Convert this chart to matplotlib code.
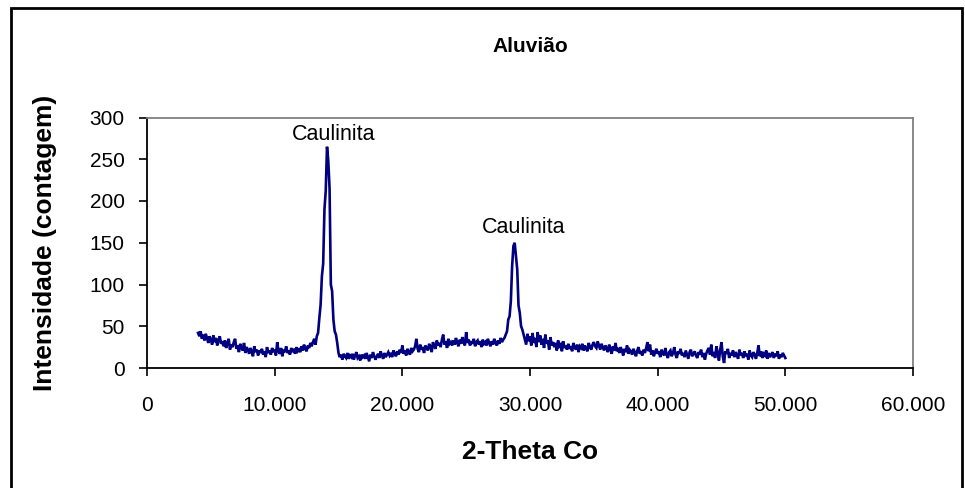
import numpy as np
import matplotlib
matplotlib.use("Agg")
import matplotlib.pyplot as plt
from matplotlib import font_manager
from matplotlib.patches import Rectangle
from matplotlib.ticker import FuncFormatter

# 2-theta scan (degrees, Co radiation), 0.1 degree step from 4 to 50
two_theta_start = 4.0
two_theta_step = 0.1
counts = [
    42, 38, 44, 35, 40, 33, 41, 36, 30, 38,
    34, 28, 39, 31, 36, 27, 33, 38, 29, 32,
    26, 33, 24, 30, 35, 22, 28, 25, 31, 35,
    23, 27, 19, 29, 24, 21, 30, 18, 25, 22,
    17, 24, 20, 14, 26, 19, 22, 15, 21, 18,
    23, 16, 20, 13, 25, 18, 21, 16, 24, 19,
    22, 15, 31, 20, 17, 24, 14, 22, 19, 26,
    18, 21, 16, 24, 19, 23, 17, 25, 20, 22,
    19, 26, 21, 28, 23, 20, 27, 24, 30, 26,
    31, 35, 28, 38, 42, 60, 76, 110, 125, 190,
    212, 265, 248, 215, 100, 92, 58, 44, 40, 30,
    18, 13, 16, 10, 17, 14, 12, 18, 11, 15,
    13, 17, 10, 15, 19, 12, 14, 9, 16, 13,
    15, 11, 18, 13, 8, 16, 12, 19, 14, 10,
    14, 17, 12, 20, 15, 11, 18, 13, 16, 19,
    15, 18, 13, 21, 17, 14, 20, 16, 22, 18,
    27, 17, 21, 15, 23, 19, 16, 24, 20, 22,
    26, 35, 23, 19, 28, 22, 25, 18, 27, 24,
    21, 29, 25, 19, 31, 26, 23, 33, 27, 30,
    25, 34, 40, 28, 32, 24, 35, 29, 31, 27,
    33, 28, 36, 30, 26, 34, 29, 37, 31, 27,
    43, 30, 34, 27, 32, 29, 35, 26, 31, 33,
    28, 32, 25, 34, 29, 31, 27, 35, 30, 26,
    32, 28, 35, 30, 27, 33, 29, 36, 31, 34,
    36, 40, 44, 58, 62, 80, 122, 146, 150, 134,
    118, 75, 66, 50, 46, 40, 34, 28, 41, 32,
    38, 27, 42, 30, 36, 25, 43, 31, 39, 28,
    35, 24, 40, 29, 33, 22, 37, 27, 31, 25,
    30, 21, 33, 26, 28, 20, 32, 24, 27, 22,
    29, 23, 26, 20, 30, 25, 22, 28, 19, 26,
    24, 29, 21, 27, 23, 20, 30, 25, 22, 28,
    31, 26, 24, 32, 27, 22, 29, 25, 21, 27,
    24, 19, 28, 23, 17, 26, 21, 30, 20, 24,
    18, 25, 21, 15, 23, 19, 27, 17, 22, 20,
    16, 23, 19, 14, 21, 25, 17, 20, 15, 22,
    18, 24, 31, 20, 28, 16, 21, 14, 19, 23,
    17, 20, 13, 22, 18, 15, 24, 16, 12, 19,
    21, 14, 18, 25, 16, 12, 20, 17, 23, 15,
    18, 13, 21, 16, 11, 19, 22, 14, 17, 20,
    15, 12, 19, 16, 22, 13, 18, 10, 17, 21,
    24, 16, 28, 14, 19, 12, 26, 18, 9, 22,
    31, 14, 6, 20, 17, 23, 12, 18, 15, 21,
    13, 19, 16, 11, 22, 15, 18, 12, 20, 14,
    17, 10, 21, 15, 13, 19, 16, 11, 18, 27,
    14, 20, 12, 17, 15, 21, 11, 18, 13, 16,
    19, 12, 17, 14, 20, 11, 16, 13, 18, 15,
    12,
]
two_theta = two_theta_start + two_theta_step * np.arange(len(counts))

# Peak annotations
peak_labels = ["Caulinita", "Caulinita"]
peak_label_x = [14.6, 29.5]
peak_label_y = [273, 162]

x_ticks = [0, 10, 20, 30, 40, 50, 60]
y_ticks = [0, 50, 100, 150, 200, 250, 300]

title = "Aluvião"
x_label = "2-Theta Co"
y_label = "Intensidade (contagem)"


def has_font(name):
    try:
        font_manager.findfont(font_manager.FontProperties(family=name),
                              fallback_to_default=False)
        return True
    except Exception:
        return False


base_font = "Liberation Sans" if has_font("Liberation Sans") else "DejaVu Sans"
plt.rcParams["font.family"] = [base_font, "DejaVu Sans"]

W, H = 965, 488
fig = plt.figure(figsize=(W / 100, H / 100), dpi=100)
fig.patch.set_facecolor("white")

# Outer chart frame
fig.patches.append(Rectangle((11 / W, -0.02), (962 - 11) / W, 1.02 - 8 / H,
                             transform=fig.transFigure, fill=False,
                             edgecolor="black", linewidth=2.0))

left, right, top, bottom = 147 / W, 913 / W, 1 - 117.5 / H, 1 - 368 / H
ax = fig.add_axes([left, bottom, right - left, top - bottom])

ax.plot(two_theta, counts, color="#000080", linewidth=1.9, solid_joinstyle="miter")

ax.set_xlim(0, 60)
ax.set_ylim(0, 300)
ax.set_xticks(x_ticks)
ax.set_yticks(y_ticks)
ax.xaxis.set_major_formatter(FuncFormatter(lambda v, p: "0" if v == 0 else f"{v:.3f}"))

for side in ("left", "bottom"):
    ax.spines[side].set_color("black")
    ax.spines[side].set_linewidth(1.3)
for side in ("top", "right"):
    ax.spines[side].set_color("#808080")
    ax.spines[side].set_linewidth(1.3)

ax.tick_params(axis="both", direction="out", length=6, width=1.2, color="black",
               labelsize=15)
ax.tick_params(axis="y", pad=10)
ax.tick_params(axis="x", pad=14)

for lab, lx, ly in zip(peak_labels, peak_label_x, peak_label_y):
    ax.text(lx, ly, lab, ha="center", va="baseline", fontsize=15.5,
            color="black")

cx = (left + right) / 2
fig.text(cx, 1 - 47 / H, title, ha="center", va="center",
         fontsize=15, fontweight="bold")
fig.text(cx, 1 - 452 / H, x_label, ha="center", va="center",
         fontsize=19, fontweight="bold")
fig.text(45 / W, (top + bottom) / 2, y_label, ha="center", va="center",
         rotation=90, fontsize=19, fontweight="bold")

fig.savefig("out.png", dpi=100)
